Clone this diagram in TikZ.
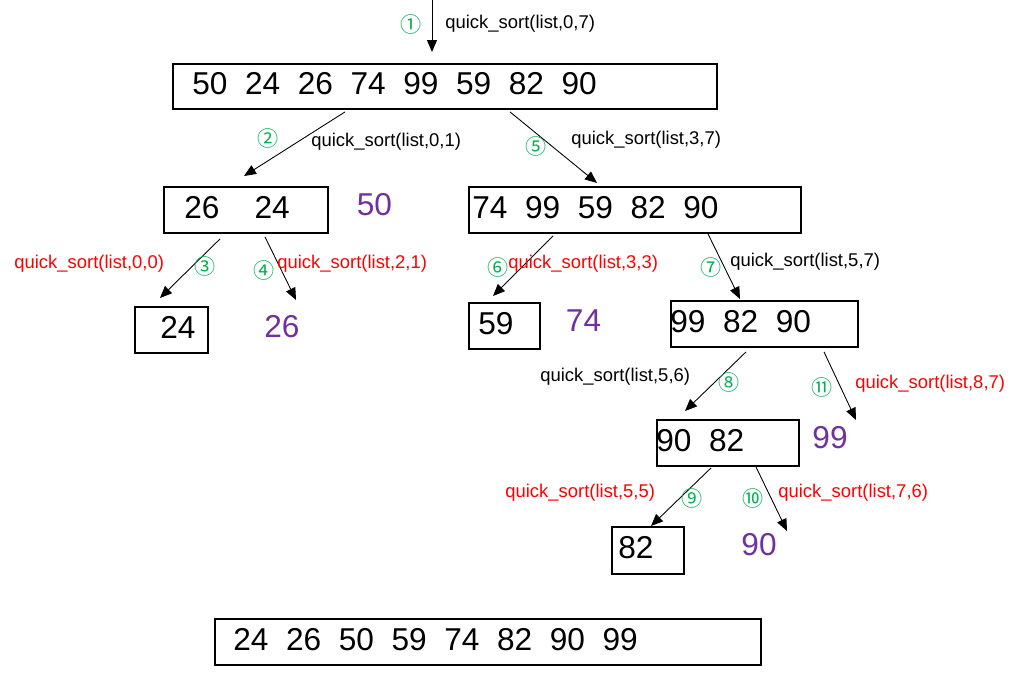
\documentclass[tikz,border=0pt]{standalone}
\usepackage{fontspec}
\setmainfont{Liberation Sans}
\newfontfamily\circfont{Noto Sans CJK SC}
\usetikzlibrary{arrows.meta, positioning, calc}
\definecolor{stepgreen}{HTML}{00B050}
\definecolor{pivotpurple}{HTML}{7030A0}

\begin{document}
\begin{tikzpicture}[
    x=0.02cm, y=-0.02cm,
    numbox/.style={rectangle, draw=black, line width=1.1pt, anchor=north west, inner sep=0pt, minimum height=0.92cm},
    numtext/.style={font=\fontsize{18}{20}\selectfont, inner sep=0pt, yshift=0.05cm},
    pivot/.style={font=\fontsize{18}{20}\selectfont, inner sep=0pt, text=pivotpurple},
    call/.style={font=\fontsize{10.5}{12}\selectfont, anchor=west, inner sep=0pt},
    call_end/.style={call, text=red},
    stepno/.style={font=\circfont\fontsize{12}{14}\selectfont, text=stepgreen, inner sep=0pt},
    arrow/.style={-{Triangle[length=0.24cm, width=0.2cm]}, line width=0.5pt}
]
\useasboundingbox (0,0) rectangle (1034,676);

% --- Level 0 ---
\node[numbox, minimum width=10.88cm, minimum height=0.9cm] (list_0_7) at (172,63) {};
\node[numtext, right=0.4cm of list_0_7.west] (txt_0_7) {50\ \ 24\ \ 26\ \ 74\ \ 99\ \ 59\ \ 82\ \ 90};

% --- Level 1 ---
\node[numbox, minimum width=3.28cm] (list_0_1) at (163,186) {};
\node[numtext, right=0.42cm of list_0_1.west] (txt_0_1) {26\ \ \ \ 24};
\node[pivot] (piv_50) at (374.5,205) {50};

\node[numbox, minimum width=6.64cm] (list_3_7) at (468,186) {};
\node[numtext, right=0.08cm of list_3_7.west] (txt_3_7) {74\ \ 99\ \ 59\ \ 82\ \ 90};

% --- Level 2 ---
\node[numbox, minimum width=1.46cm] (list_0_0) at (134,306) {};
\node[numtext, right=0.52cm of list_0_0.west] (txt_0_0) {24};
\node[pivot] (piv_26) at (282,327) {26};

\node[numbox, minimum width=1.42cm] (list_3_3) at (468,302) {};
\node[numtext, right=0.2cm of list_3_3.west] (txt_3_3) {59};
\node[pivot] (piv_74) at (583.5,321) {74};

\node[numbox, minimum width=3.74cm] (list_5_7) at (670,300) {};
\node[numtext, right=0cm of list_5_7.west] (txt_5_7) {99\ \ 82\ \ 90};

% --- Level 3 ---
\node[numbox, minimum width=2.84cm] (list_5_6) at (656,419) {};
\node[numtext, right=0cm of list_5_6.west] (txt_5_6) {90\ \ 82};
\node[pivot] (piv_99) at (830,438) {99};

% --- Level 4 ---
\node[numbox, minimum width=1.44cm, minimum height=0.94cm] (list_5_5) at (611,526) {};
\node[numtext, right=0.14cm of list_5_5.west] (txt_5_5) {82};
\node[pivot] (piv_90) at (759,545) {90};

% --- Result ---
\node[numbox, minimum width=10.92cm] (list_sorted) at (214,618) {};
\node[numtext, right=0.38cm of list_sorted.west] (txt_sorted) {24\ \ 26\ \ 50\ \ 59\ \ 74\ \ 82\ \ 90\ \ 99};

% --- Calls ---
\coordinate (call_in) at (432,0);
\draw[arrow] (call_in) -- ($(list_0_7.north west)+(260,-11)$);
\node[stepno] (s1) at (411,24) {①};
\node[call] (c1) at (445,24) {quick\_sort(list,0,7)};

\draw[arrow] ($(list_0_7.south west)+(173,2)$) -- ($(list_0_1.north west)+(81,-10)$);
\node[stepno] (s2) at (268,138) {②};
\node[call] (c2) at (311,142) {quick\_sort(list,0,1)};

\draw[arrow] ($(list_0_7.south west)+(338,2)$) -- ($(list_3_7.north west)+(129,-3)$);
\node[stepno] (s5) at (536,146) {⑤};
\node[call] (c5) at (571,140) {quick\_sort(list,3,7)};

\draw[arrow] ($(list_0_1.south west)+(57,5)$) -- ($(list_0_0.north west)+(26,-8)$);
\node[stepno] (s3) at (205,266) {③};
\node[call_end] (c3) at (14,264) {quick\_sort(list,0,0)};

\draw[arrow] ($(list_0_1.south west)+(102,3)$) -- ($(piv_26)+(14,-27)$);
\node[stepno] (s4) at (264,270) {④};
\node[call_end] (c4) at (277,264) {quick\_sort(list,2,1)};

\draw[arrow] ($(list_3_7.south west)+(85,2)$) -- ($(list_3_3.north west)+(25,-6)$);
\node[stepno] (s6) at (498,267) {⑥};
\node[call_end] (c6) at (508,264) {quick\_sort(list,3,3)};

\draw[arrow] ($(list_3_7.south west)+(240,0)$) -- ($(list_5_7.north west)+(70,-1)$);
\node[stepno] (s7) at (711,267) {⑦};
\node[call] (c7) at (730,262) {quick\_sort(list,5,7)};

\draw[arrow] ($(list_5_7.south west)+(76,4)$) -- ($(list_5_6.north west)+(29,-8)$);
\node[stepno] (s8) at (729,382) {⑧};
\node[call] (c8) at (540,377) {quick\_sort(list,5,6)};

\draw[arrow] ($(list_5_7.south west)+(154,4)$) -- ($(piv_99)+(26,-18)$);
\node[stepno] (s11) at (822,387) {⑪};
\node[call_end] (c11) at (855,384) {quick\_sort(list,8,7)};

\draw[arrow] ($(list_5_6.south west)+(55,1)$) -- ($(list_5_5.north west)+(40,0)$);
\node[stepno] (s9) at (692,498) {⑨};
\node[call_end] (c9) at (505,493) {quick\_sort(list,5,5)};

\draw[arrow] ($(list_5_6.south west)+(99,-2)$) -- ($(piv_90)+(28,-14)$);
\node[stepno] (s10) at (753,498) {⑩};
\node[call_end] (c10) at (778,493) {quick\_sort(list,7,6)};

\end{tikzpicture}
\end{document}
